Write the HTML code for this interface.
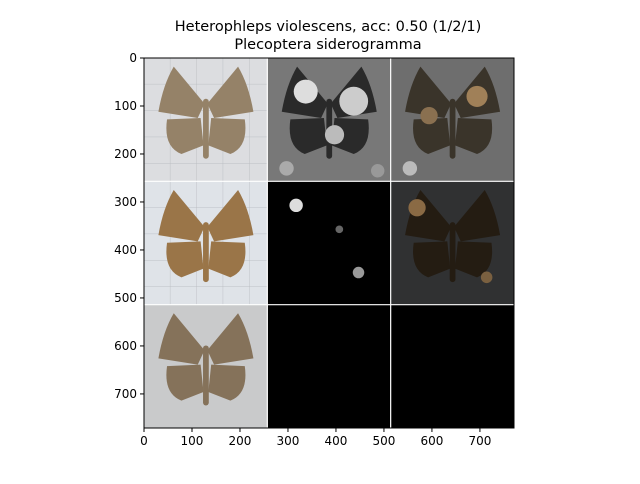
<!DOCTYPE html>
<html><head><meta charset="utf-8"><style>
body{margin:0;background:#fff;width:640px;height:480px;overflow:hidden;font-family:"DejaVu Sans","Liberation Sans",sans-serif}
</style></head><body>
<svg width="640" height="480" xmlns="http://www.w3.org/2000/svg" font-family="DejaVu Sans, Liberation Sans, sans-serif">
<defs>
<g id="moth">
<path d="M126,95 L62,18 Q40,55 30,112 L112,125 Z"/>
<path d="M132,95 L196,18 Q218,55 228,112 L146,125 Z"/>
<path d="M118,125 L48,128 Q40,185 78,200 L124,182 Z"/>
<path d="M140,125 L210,128 Q218,185 180,200 L134,182 Z"/>
<rect x="123" y="85" width="12" height="125" rx="6"/>
</g>
<pattern id="grid" width="55" height="55" patternUnits="userSpaceOnUse"><path d="M55 0V55H0" fill="none" stroke="#b4b6bb" stroke-width="1.5"/></pattern>
</defs>
<text x="328" y="31" font-size="14.5" text-anchor="middle">Heterophleps violescens, acc: 0.50 (1/2/1)</text>
<text x="328" y="49" font-size="14.5" text-anchor="middle">Plecoptera siderogramma</text>
<svg x="144" y="58" width="370" height="370" viewBox="0 0 771 771" preserveAspectRatio="none">
<g><rect x="0" y="0" width="257" height="257" fill="#dcdde0"/><rect width="257" height="257" fill="url(#grid)"/><use href="#moth" fill="#958268"/></g>
<g transform="translate(257,0)"><rect width="257" height="257" fill="#787878"/><use href="#moth" fill="#2a2a2a"/><circle cx="80" cy="70" r="25" fill="#ddd"/><circle cx="180" cy="90" r="30" fill="#ccc"/><circle cx="140" cy="160" r="20" fill="#bbb"/><circle cx="40" cy="230" r="15" fill="#aaa"/><circle cx="230" cy="235" r="14" fill="#999"/></g>
<g transform="translate(514,0)"><rect width="257" height="257" fill="#6e6e6e"/><use href="#moth" fill="#3a342a"/><circle cx="180" cy="80" r="22" fill="#a08058"/><circle cx="80" cy="120" r="18" fill="#8a7050"/><circle cx="40" cy="230" r="15" fill="#bbb"/></g>
<g transform="translate(0,257)"><rect width="257" height="257" fill="#dfe3e8"/><rect width="257" height="257" fill="url(#grid)"/><use href="#moth" fill="#9a7548"/></g>
<g transform="translate(257,257)"><rect width="257" height="257" fill="#000"/><circle cx="60" cy="50" r="14" fill="#ddd"/><circle cx="190" cy="190" r="12" fill="#999"/><circle cx="150" cy="100" r="8" fill="#666"/></g>
<g transform="translate(514,257)"><rect width="257" height="257" fill="#303132"/><use href="#moth" fill="#241c12"/><circle cx="55" cy="55" r="18" fill="#8a6a44"/><circle cx="200" cy="200" r="12" fill="#7a6040"/></g>
<g transform="translate(0,514)"><rect width="257" height="257" fill="#c9cacb"/><use href="#moth" fill="#85725a"/></g>
<rect x="257" y="514" width="257" height="257" fill="#000"/>
<rect x="514" y="514" width="257" height="257" fill="#000"/>
<g stroke="#fff" stroke-width="2.5"><line x1="257" y1="0" x2="257" y2="771"/><line x1="514" y1="0" x2="514" y2="771"/><line x1="0" y1="257" x2="771" y2="257"/><line x1="0" y1="514" x2="771" y2="514"/></g>
</svg>
<rect x="144" y="58" width="370" height="370" fill="none" stroke="#000" stroke-width="1"/>
<g id="ticks" font-size="12"></g>
</svg>
<script>
const xTicks=[0,100,200,300,400,500,600,700];
const yTicks=[0,100,200,300,400,500,600,700];
const ns="http://www.w3.org/2000/svg";
const g=document.getElementById('ticks');
const sx=v=>144+v*370/771, sy=v=>58+v*370/771;
function mk(t,a,txt){const e=document.createElementNS(ns,t);for(const k in a)e.setAttribute(k,a[k]);if(txt!==undefined)e.textContent=txt;g.appendChild(e);return e;}
xTicks.forEach(v=>{
 const l=mk('line',{x1:sx(v),x2:sx(v),y1:428,y2:432,stroke:'#000'});
 
 
 const t=mk('text',{x:sx(v),y:445,'text-anchor':'middle'},v);
 
 
});
yTicks.forEach(v=>{
 const l=mk('line',{x1:140,x2:144,y1:sy(v),y2:sy(v),stroke:'#000'});
 
 
 const t=mk('text',{x:137,y:sy(v)+4,'text-anchor':'end'},v);
 
 
});
</script>
</body></html>
